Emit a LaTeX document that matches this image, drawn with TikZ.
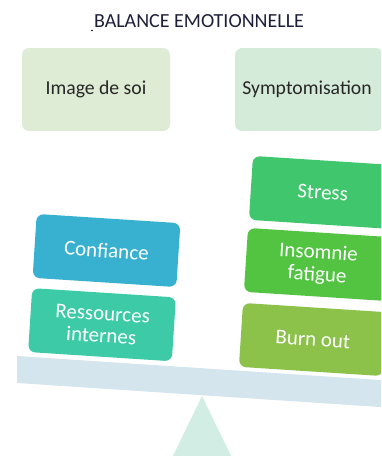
\documentclass[tikz,border=0pt]{standalone}
\usepackage{fontspec}
\setmainfont{Carlito}
\definecolor{titlec}{HTML}{1E1E3A}
\definecolor{imgc}{HTML}{DEEBD5}
\definecolor{symc}{HTML}{D5EBD9}
\definecolor{confc}{HTML}{38B0D0}
\definecolor{ressc}{HTML}{3CCBA6}
\definecolor{stressc}{HTML}{40C66C}
\definecolor{insoc}{HTML}{52C442}
\definecolor{burnc}{HTML}{8CC24A}
\definecolor{beamc}{HTML}{D4E5EE}
\definecolor{pivotc}{HTML}{D2EDE4}
\begin{document}
\begin{tikzpicture}[x=1pt,y=-1pt,
  toptext/.style={text=black!85,font=\fontsize{19.7}{21}\selectfont},
  tilt/.style={rounded corners=7pt,minimum width=144pt,minimum height=64pt,inner sep=0pt,
    rotate=-3.7,text=white,align=center,font=\fontsize{21}{22}\selectfont}]
\useasboundingbox (0,0) rectangle (381,456);
\clip (0,0) rectangle (381,456);
% title
\node[text=titlec,font=\fontsize{20}{22}\selectfont] (title) at (199,21) {BALANCE EMOTIONNELLE};
\fill[black] (92,30.5) circle (0.8);
% top boxes
\fill[imgc,rounded corners=7pt] (22,48) rectangle (170,131);
\node[toptext] (img) at (96,89) {Image de soi};
\fill[symc,rounded corners=7pt] (235,48) rectangle (383,131);
\node[toptext] (sym) at (307,89) {Symptomisation};
% pivot and beam
\fill[pivotc] (202,396) -- (236,466) -- (168,466) -- cycle;
\fill[beamc] (17,356) -- (395,381) -- (395,408) -- (17,383) -- cycle;
% tilted boxes
\node[tilt,fill=confc] (conf) at (106.5,250.5) {Confiance};
\node[tilt,fill=ressc] (ress) at (102,324.7) {Ressources\\internes};
\node[tilt,fill=stressc] (stress) at (322.8,192.5) {Stress};
\node[tilt,fill=insoc] (inso) at (317.8,264.5) {Insomnie\\fatigue};
\node[tilt,fill=burnc] (burn) at (312.8,339.5) {Burn out};
\end{tikzpicture}
\end{document}
